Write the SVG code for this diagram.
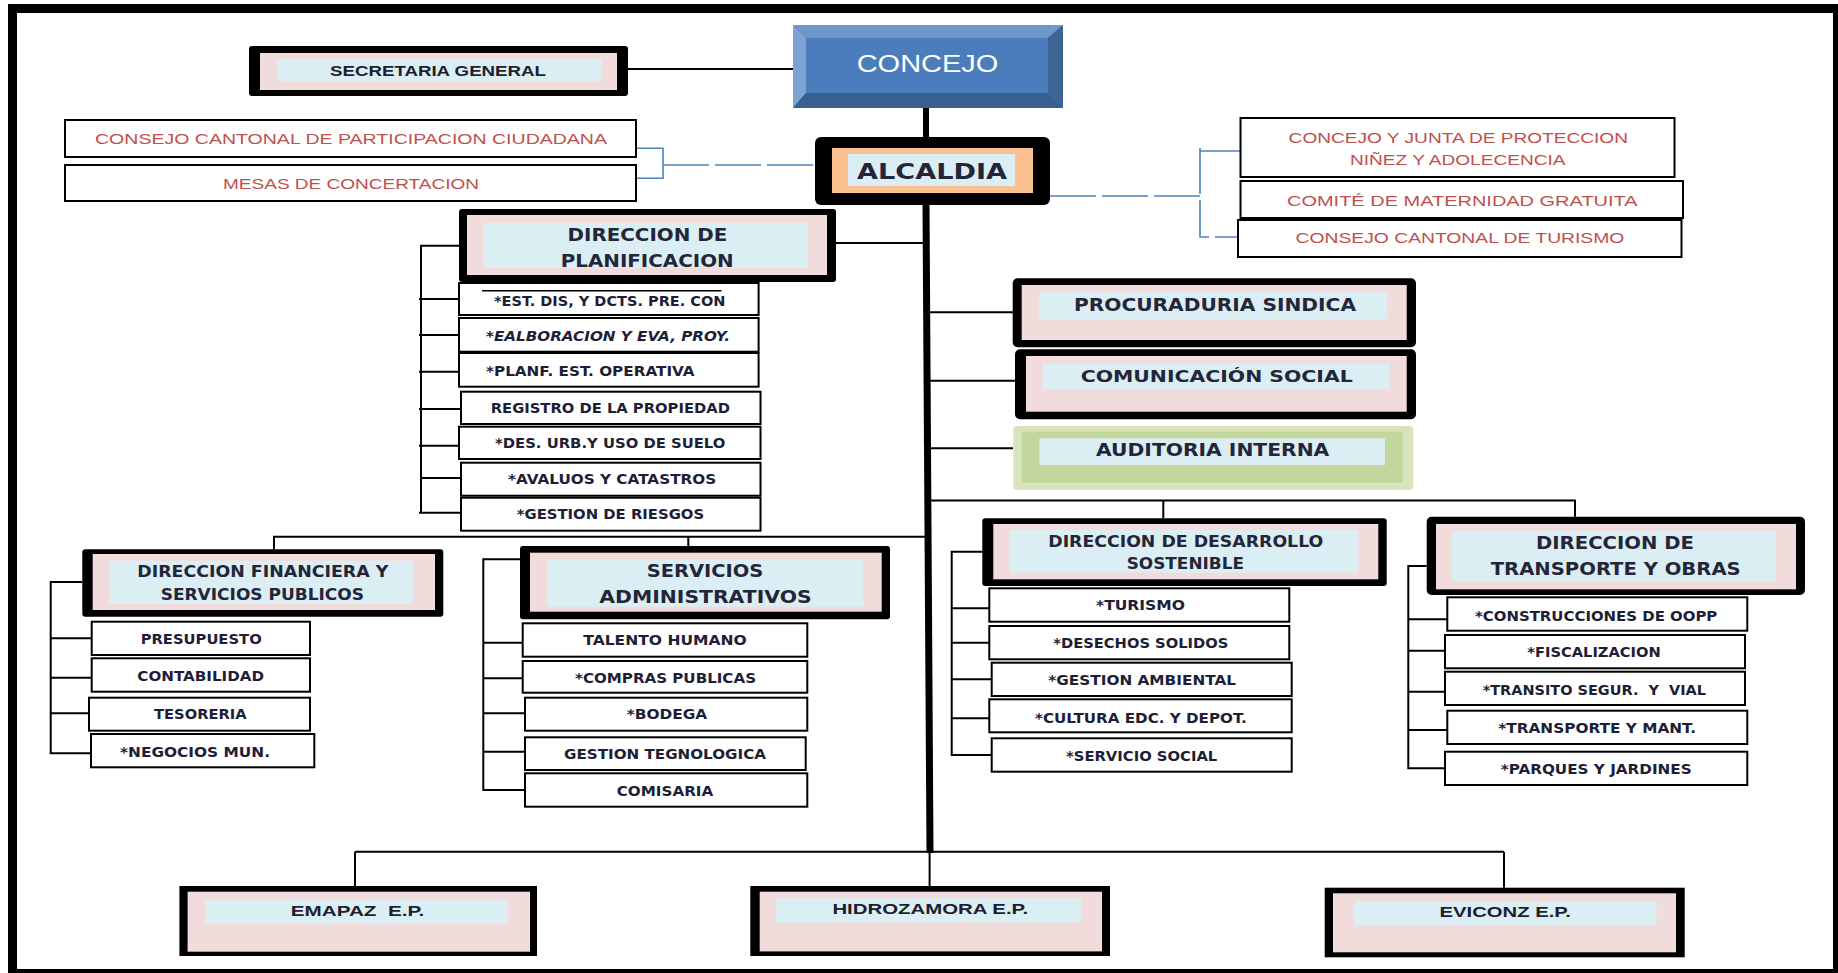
<svg xmlns="http://www.w3.org/2000/svg" width="1838" height="973" viewBox="0 0 1838 973">
<style>
.blk{fill:#000}
.pink{fill:#f2dcdb}
.lb{fill:#daeef3}
.sub{fill:#fff;stroke:#000;stroke-width:2}
.wb{fill:#fff;stroke:#000;stroke-width:2}
.ln{stroke:#000;stroke-width:2;fill:none}
.bl{stroke:#4f81bd;stroke-width:1.6;fill:none}
.dash{stroke-dasharray:46 6}
.h{font-family:'DejaVu Sans',Verdana,sans-serif;font-weight:bold;fill:#25253a}
.s{font-family:'DejaVu Sans',Verdana,sans-serif;font-weight:bold;fill:#1e1e36;font-size:13.5px}
.c{font-family:'Liberation Sans',Arial,sans-serif;font-weight:bold;fill:#1e1e30}
.r{font-family:'Liberation Sans',Arial,sans-serif;fill:#c0504d;font-size:15px}
.pre{white-space:pre}
</style>
<rect x="12.5" y="8.5" width="1825" height="965" fill="none" stroke="#000" stroke-width="9"/>

<g id="connectors">
<path class="ln" d="M628,69H793"/>
<path d="M926,108V137" stroke="#000" stroke-width="6"/>
<path d="M926,205L930,853" stroke="#000" stroke-width="7" fill="none"/>
<path class="ln" d="M836,243H928"/>
<path class="ln" d="M459,245.7H421V512.7M419,299H459M419,335H459M419,371.7H459M419,409H461M419,445.7H459M421,478H461M419,512.7H461"/>
<path class="ln" d="M930,312.3H1013M930,380.7H1015M930,448.3H1013"/>
<path class="ln" d="M929,500.5H1576M1163.3,500.5V518.3M1575,500.5V516.7"/>
<path class="ln" d="M928,536.7H274V549.3M688.3,536.7V546"/>
<path class="ln" d="M82.3,582H50.7V753.3H91.7M50.7,638.3H91.7M50.7,677.7H91.7M50.7,713.3H89"/>
<path class="ln" d="M520,559.3H483.3V790H525M483.3,642.7H522.7M483.3,678.3H522.7M483.3,713.3H525M483.3,751.7H525"/>
<path class="ln" d="M982.3,551.7H951.7V755H991.7M951.7,608.3H989.3M951.7,642.7H989.3M951.7,679.3H991.7M951.7,718.3H989.3"/>
<path class="ln" d="M1426.7,566H1408.3V768.3H1445M1408.3,619.3H1447.3M1408.3,650.7H1445M1408.3,691.7H1445M1408.3,730H1447.3"/>
<path class="ln" d="M355,851.7H1504M355,851.7V886M929.6,851.7V886M1504,851.7V887.7"/>
<path class="bl" d="M636,148.3H663V178.3H636"/>
<path class="bl dash" d="M663,165H821"/>
<path class="bl dash" d="M1050,196H1200"/>
<path class="bl dash" d="M1200,148V237H1238"/>
<path class="bl" d="M1200,151H1240.5"/>
</g>

<g id="n-concejo">
<rect x="793" y="25" width="270" height="83" rx="4" fill="#41719c"/>
<polygon points="793,25 1063,25 1048,38 806,38" fill="#6f97ca"/>
<polygon points="793,25 806,38 806,93 793,108" fill="#7ea3d2"/>
<polygon points="1063,25 1063,108 1048,93 1048,38" fill="#3c6596"/>
<polygon points="793,108 806,93 1048,93 1063,108" fill="#385f8e"/>
<rect x="806" y="38" width="242" height="55" fill="#4b7dbc"/>
<text x="856.7" y="71.7" textLength="141.7" lengthAdjust="spacingAndGlyphs" font-family="'Liberation Sans',Arial,sans-serif" font-size="23" fill="#fff">CONCEJO</text>
</g>

<g id="n-secretaria">
<rect class="blk" x="249" y="46" width="379" height="50" rx="3"/>
<rect class="pink" x="260" y="53" width="357" height="37"/>
<rect class="lb" x="277" y="59" width="325" height="22"/>
<text class="c" x="330" y="76" font-size="15" textLength="216" lengthAdjust="spacingAndGlyphs">SECRETARIA GENERAL</text>
</g>

<g id="n-alcaldia">
<rect class="blk" x="815" y="137" width="235" height="68" rx="6"/>
<rect x="832" y="148" width="201" height="45" fill="#fac090"/>
<rect class="lb" x="848" y="154" width="167" height="32"/>
<text class="h" x="857" y="178.5" font-size="21" textLength="150" lengthAdjust="spacingAndGlyphs" fill="#111">ALCALDIA</text>
</g>

<g id="n-participacion">
<rect class="wb" x="65" y="120" width="571" height="37"/>
<text class="r" x="95" y="144" textLength="512" lengthAdjust="spacingAndGlyphs">CONSEJO CANTONAL DE PARTICIPACION CIUDADANA</text>
</g>
<g id="n-mesas">
<rect class="wb" x="65" y="165" width="571" height="36"/>
<text class="r" x="223" y="189.3" textLength="256" lengthAdjust="spacingAndGlyphs">MESAS DE CONCERTACION</text>
</g>

<g id="n-junta">
<rect class="wb" x="1240.5" y="118" width="434" height="59"/>
<text class="r" x="1288.6" y="143" textLength="339.4" lengthAdjust="spacingAndGlyphs">CONCEJO Y JUNTA DE PROTECCION</text>
<text class="r" x="1350" y="165" textLength="215.5" lengthAdjust="spacingAndGlyphs">NIÑEZ Y ADOLECENCIA</text>
</g>
<g id="n-maternidad">
<rect class="wb" x="1240.5" y="181" width="442.5" height="37"/>
<text class="r" x="1287" y="206" textLength="350.6" lengthAdjust="spacingAndGlyphs">COMITÉ DE MATERNIDAD GRATUITA</text>
</g>
<g id="n-turismo-consejo">
<rect class="wb" x="1238" y="220" width="443.5" height="37"/>
<text class="r" x="1295.6" y="243" textLength="328.7" lengthAdjust="spacingAndGlyphs">CONSEJO CANTONAL DE TURISMO</text>
</g>

<g id="n-planificacion">
<rect class="blk" x="459" y="209" width="377" height="73" rx="3"/>
<rect class="pink" x="467" y="215" width="360" height="60"/>
<rect class="lb" x="483" y="223" width="325" height="45"/>
<text class="h" x="567.6" y="240.7" font-size="17" textLength="159.6" lengthAdjust="spacingAndGlyphs">DIRECCION DE</text>
<text class="h" x="560.7" y="266.7" font-size="17" textLength="173" lengthAdjust="spacingAndGlyphs">PLANIFICACION</text>
</g>
<g id="n-plan-items">
<rect class="sub" x="459" y="283" width="299.6" height="32"/>
<path d="M482,290.7H721.5" stroke="#000" stroke-width="1.5"/>
<text class="s" x="494" y="306" font-size="13" textLength="231.5" lengthAdjust="spacingAndGlyphs">*EST. DIS, Y DCTS. PRE. CON</text>
<rect class="sub" x="459" y="318" width="299.6" height="33.7"/>
<text class="s" x="486" y="341" font-size="13" font-style="italic" textLength="244" lengthAdjust="spacingAndGlyphs">*EALBORACION Y EVA, PROY.</text>
<rect class="sub" x="459" y="353" width="299.6" height="33.7"/>
<text class="s" x="486" y="375.7" font-size="13" textLength="208.6" lengthAdjust="spacingAndGlyphs">*PLANF. EST. OPERATIVA</text>
<rect class="sub" x="461" y="391.7" width="299.5" height="32.3"/>
<text class="s" x="490.7" y="413" font-size="13" textLength="239.2" lengthAdjust="spacingAndGlyphs">REGISTRO DE LA PROPIEDAD</text>
<rect class="sub" x="459" y="426.7" width="301.5" height="32.3"/>
<text class="s" x="495" y="448" font-size="13" textLength="230.4" lengthAdjust="spacingAndGlyphs">*DES. URB.Y USO DE SUELO</text>
<rect class="sub" x="461" y="462.7" width="299.5" height="33"/>
<text class="s" x="508" y="484" font-size="13" textLength="208.2" lengthAdjust="spacingAndGlyphs">*AVALUOS Y CATASTROS</text>
<rect class="sub" x="461" y="497.7" width="299.5" height="33"/>
<text class="s" x="516.7" y="519" font-size="13" textLength="187.5" lengthAdjust="spacingAndGlyphs">*GESTION DE RIESGOS</text>
</g>

<g id="n-procuraduria">
<rect class="blk" x="1012.7" y="278.3" width="403.3" height="69" rx="5"/>
<rect class="pink" x="1021.7" y="285" width="385" height="55"/>
<rect class="lb" x="1039.3" y="291.7" width="348" height="27.6"/>
<text class="h" x="1074" y="310.7" font-size="17" textLength="282" lengthAdjust="spacingAndGlyphs">PROCURADURIA SINDICA</text>
</g>
<g id="n-comunicacion">
<rect class="blk" x="1015" y="349.3" width="401" height="70" rx="5"/>
<rect class="pink" x="1026" y="356" width="380.7" height="55.7"/>
<rect class="lb" x="1042.7" y="363.3" width="346.6" height="26"/>
<text class="h" x="1080.7" y="381.7" font-size="16" textLength="272" lengthAdjust="spacingAndGlyphs">COMUNICACIÓN SOCIAL</text>
</g>
<g id="n-auditoria">
<rect x="1013.3" y="426" width="400" height="64" rx="4" fill="#d7e4bd"/>
<rect x="1021.7" y="431.7" width="381" height="51" fill="#c3d69b"/>
<rect class="lb" x="1039.3" y="438.3" width="345.7" height="26.7"/>
<text class="h" x="1096" y="455.7" font-size="17" textLength="233.3" lengthAdjust="spacingAndGlyphs">AUDITORIA INTERNA</text>
</g>

<g id="n-financiera">
<rect class="blk" x="82.3" y="549.3" width="361" height="67.4" rx="3"/>
<rect class="pink" x="92.7" y="554" width="342.3" height="56"/>
<rect class="lb" x="109.3" y="560.7" width="304" height="43.3"/>
<text class="h" x="137.3" y="577.3" font-size="15.5" textLength="251" lengthAdjust="spacingAndGlyphs">DIRECCION FINANCIERA Y</text>
<text class="h" x="160.7" y="600" font-size="15.5" textLength="203.3" lengthAdjust="spacingAndGlyphs">SERVICIOS PUBLICOS</text>
</g>
<g id="n-fin-items">
<rect class="sub" x="91.7" y="621.7" width="218.3" height="33.3"/>
<text class="s" x="140.7" y="644" font-size="14" textLength="121" lengthAdjust="spacingAndGlyphs">PRESUPUESTO</text>
<rect class="sub" x="91.7" y="658.3" width="218.3" height="33.4"/>
<text class="s" x="137.3" y="680.7" font-size="14" textLength="126.7" lengthAdjust="spacingAndGlyphs">CONTABILIDAD</text>
<rect class="sub" x="89" y="697.7" width="221" height="33"/>
<text class="s" x="154" y="719.3" font-size="14" textLength="92.7" lengthAdjust="spacingAndGlyphs">TESORERIA</text>
<rect class="sub" x="91" y="734" width="223.3" height="33.3"/>
<text class="s" x="120" y="757.3" font-size="14" textLength="150" lengthAdjust="spacingAndGlyphs">*NEGOCIOS MUN.</text>
</g>

<g id="n-servicios">
<rect class="blk" x="520" y="546" width="370" height="73.3" rx="3"/>
<rect class="pink" x="530" y="552.7" width="351.7" height="59"/>
<rect class="lb" x="547.3" y="559.3" width="316" height="47.4"/>
<text class="h" x="646.7" y="577.3" font-size="18" textLength="116.7" lengthAdjust="spacingAndGlyphs">SERVICIOS</text>
<text class="h" x="599.3" y="602.7" font-size="18" textLength="212.3" lengthAdjust="spacingAndGlyphs">ADMINISTRATIVOS</text>
</g>
<g id="n-serv-items">
<rect class="sub" x="522.7" y="623.3" width="284.6" height="33.4"/>
<text class="s" x="583.3" y="645" font-size="14" textLength="163.4" lengthAdjust="spacingAndGlyphs">TALENTO HUMANO</text>
<rect class="sub" x="522.7" y="661" width="284.6" height="31.7"/>
<text class="s" x="575" y="683.3" font-size="14" textLength="181" lengthAdjust="spacingAndGlyphs">*COMPRAS PUBLICAS</text>
<rect class="sub" x="525" y="697.7" width="282.3" height="33"/>
<text class="s" x="626.7" y="719.3" font-size="14" textLength="80.6" lengthAdjust="spacingAndGlyphs">*BODEGA</text>
<rect class="sub" x="525" y="737.3" width="280.7" height="32.7"/>
<text class="s" x="564" y="759.3" font-size="14" textLength="202" lengthAdjust="spacingAndGlyphs">GESTION TEGNOLOGICA</text>
<rect class="sub" x="525" y="773.3" width="282.3" height="33.4"/>
<text class="s" x="616.7" y="795.7" font-size="14" textLength="96.6" lengthAdjust="spacingAndGlyphs">COMISARIA</text>
</g>

<g id="n-desarrollo">
<rect class="blk" x="982.3" y="518.3" width="404.4" height="67.7" rx="3"/>
<rect class="pink" x="993.3" y="524" width="385" height="55.3"/>
<rect class="lb" x="1009.3" y="530" width="349" height="42.7"/>
<text class="h" x="1048.3" y="546.7" font-size="15" textLength="275" lengthAdjust="spacingAndGlyphs">DIRECCION DE DESARROLLO</text>
<text class="h" x="1126.7" y="569.3" font-size="15" textLength="117.3" lengthAdjust="spacingAndGlyphs">SOSTENIBLE</text>
</g>
<g id="n-des-items">
<rect class="sub" x="989.3" y="588.3" width="300" height="33.4"/>
<text class="s" x="1096" y="610" font-size="14" textLength="89" lengthAdjust="spacingAndGlyphs">*TURISMO</text>
<rect class="sub" x="989.3" y="626" width="300" height="33.3"/>
<text class="s" x="1053.3" y="648.3" font-size="14" textLength="175" lengthAdjust="spacingAndGlyphs">*DESECHOS SOLIDOS</text>
<rect class="sub" x="991.7" y="662.7" width="300" height="33.3"/>
<text class="s" x="1048.3" y="685" font-size="14" textLength="187.7" lengthAdjust="spacingAndGlyphs">*GESTION AMBIENTAL</text>
<rect class="sub" x="989.3" y="699.3" width="302.4" height="33"/>
<text class="s" x="1035" y="722.7" font-size="14" textLength="211.7" lengthAdjust="spacingAndGlyphs">*CULTURA EDC. Y DEPOT.</text>
<rect class="sub" x="991.7" y="738.3" width="300" height="33.4"/>
<text class="s" x="1066" y="760.7" font-size="14" textLength="151.3" lengthAdjust="spacingAndGlyphs">*SERVICIO SOCIAL</text>
</g>

<g id="n-transporte">
<rect class="blk" x="1426.7" y="516.7" width="378.3" height="78.3" rx="5"/>
<rect class="pink" x="1436" y="524" width="360" height="65.3"/>
<rect class="lb" x="1451.7" y="530.7" width="324.3" height="51"/>
<text class="h" x="1536" y="549" font-size="18" textLength="158" lengthAdjust="spacingAndGlyphs">DIRECCION DE</text>
<text class="h" x="1490.7" y="575" font-size="18" textLength="250" lengthAdjust="spacingAndGlyphs">TRANSPORTE Y OBRAS</text>
</g>
<g id="n-trans-items">
<rect class="sub" x="1447.3" y="597.3" width="300" height="33.4"/>
<text class="s" x="1475" y="620.7" font-size="14" textLength="242.3" lengthAdjust="spacingAndGlyphs">*CONSTRUCCIONES DE OOPP</text>
<rect class="sub" x="1445" y="635" width="300" height="33.3"/>
<text class="s" x="1527.3" y="657.3" font-size="14" textLength="133.4" lengthAdjust="spacingAndGlyphs">*FISCALIZACION</text>
<rect class="sub" x="1445" y="671.7" width="300" height="33.3"/>
<text class="s pre" x="1482.7" y="695" font-size="14" textLength="223.3" lengthAdjust="spacingAndGlyphs">*TRANSITO SEGUR.  Y  VIAL</text>
<rect class="sub" x="1447.3" y="710.7" width="300" height="33.3"/>
<text class="s" x="1498.3" y="733.3" font-size="14" textLength="197.7" lengthAdjust="spacingAndGlyphs">*TRANSPORTE Y MANT.</text>
<rect class="sub" x="1445" y="751.7" width="302.3" height="33.3"/>
<text class="s" x="1500.7" y="774" font-size="14" textLength="191" lengthAdjust="spacingAndGlyphs">*PARQUES Y JARDINES</text>
</g>

<g id="n-emapaz">
<rect class="blk" x="179.4" y="886" width="357.6" height="70"/>
<rect class="pink" x="187.6" y="891.7" width="342.4" height="60"/>
<rect class="lb" x="205" y="899.3" width="302.6" height="24"/>
<text class="c pre" x="290.7" y="916" font-size="14" textLength="133.7" lengthAdjust="spacingAndGlyphs">EMAPAZ  E.P.</text>
</g>
<g id="n-hidrozamora">
<rect class="blk" x="750.3" y="886" width="359.7" height="70"/>
<rect class="pink" x="759.7" y="891.7" width="342.3" height="59.7"/>
<rect class="lb" x="776" y="898.3" width="305" height="24.4"/>
<text class="c" x="832.4" y="914.3" font-size="14" textLength="195.8" lengthAdjust="spacingAndGlyphs">HIDROZAMORA E.P.</text>
</g>
<g id="n-eviconz">
<rect class="blk" x="1324.7" y="887.7" width="360" height="69.6"/>
<rect class="pink" x="1333" y="893.3" width="343" height="59"/>
<rect class="lb" x="1354" y="901" width="302.5" height="24"/>
<text class="c" x="1439.6" y="917.3" font-size="14" textLength="131.3" lengthAdjust="spacingAndGlyphs">EVICONZ E.P.</text>
</g>
</svg>
